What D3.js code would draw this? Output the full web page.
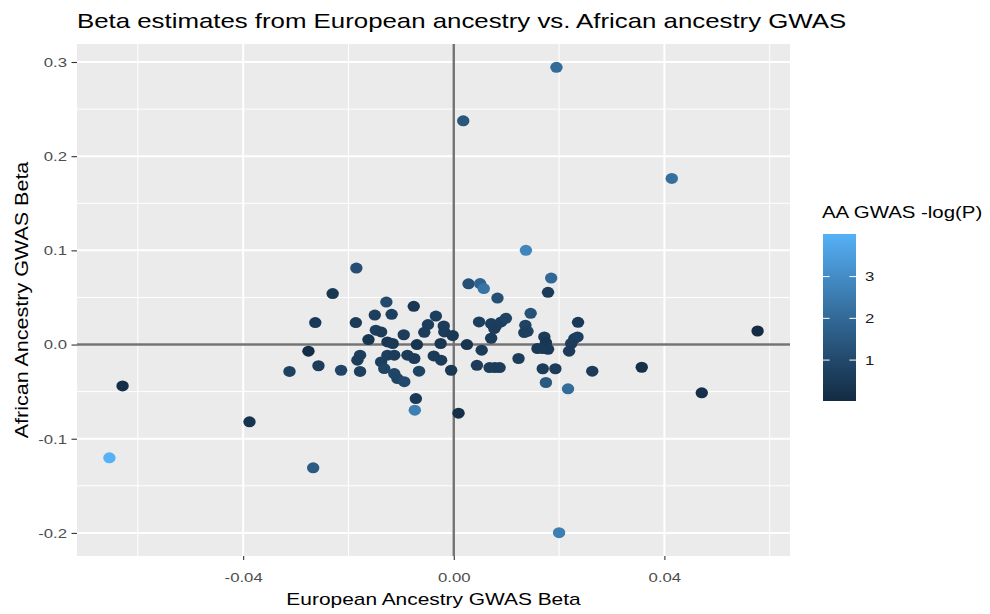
<!DOCTYPE html>
<html>
<head>
<meta charset="utf-8">
<script src="https://cdn.jsdelivr.net/npm/d3@7"></script>
<style>
  body { margin: 0; background: #ffffff; }
  svg { display: block; font-family: "Liberation Sans", Arial, sans-serif; }
</style>
</head>
<body>
<svg id="chart" width="990" height="614"></svg>
<script>
// Per-variant effect estimates: European ancestry beta, African ancestry beta, AA -log10(P)
const euBeta = [
  -0.0654, -0.0629, -0.0388, -0.0267, -0.0312, -0.0276, -0.0257, -0.0263, -0.0230, -0.0214,
  -0.0185, -0.0186, -0.0178, -0.0183, -0.0178, -0.0162, -0.0148, -0.0138, -0.0150, -0.0128,
  -0.0118, -0.0126, -0.0116, -0.0138, -0.0132, -0.0126, -0.0113, -0.0107, -0.0094, -0.0113,
  -0.0088, -0.0075, -0.0095, -0.0076, -0.0070, -0.0066, -0.0072, -0.0074, -0.0034, -0.0049,
  -0.0019, -0.0056, -0.0018, -0.0002, -0.0025, -0.0038, -0.0024, -0.0005, 0.0009, 0.0018,
  0.0025, 0.0028, 0.0050, 0.0057, 0.0083, 0.0048, 0.0053, 0.0044, 0.0071, 0.0071,
  0.0080, 0.0090, 0.0099, 0.0077, 0.0068, 0.0078, 0.0087, 0.0123, 0.0137, 0.0146,
  0.0136, 0.0140, 0.0134, 0.0172, 0.0175, 0.0159, 0.0169, 0.0179, 0.0185, 0.0179,
  0.0169, 0.0193, 0.0175, 0.0195, 0.0200, 0.0217, 0.0236, 0.0229, 0.0235, 0.0223,
  0.0219, 0.0263, 0.0357, 0.0414, 0.0471, 0.0577
];
const aaBeta = [
  -0.1203, -0.0439, -0.0821, -0.1309, -0.0286, -0.0071, -0.0225, 0.0233, 0.0541, -0.0273,
  0.0812, 0.0233, -0.0113, -0.0166, -0.0286, 0.0053, 0.0152, 0.0134, 0.0313, 0.0451,
  0.0321, 0.0028, 0.0011, -0.0185, -0.0255, -0.0113, -0.0308, -0.0361, -0.0394, -0.0113,
  -0.0113, -0.0148, 0.0104, 0.0406, 0.0000, -0.0283, -0.0573, -0.0697, 0.0302, 0.0212,
  0.0197, 0.0130, 0.0134, 0.0096, 0.0011, -0.0121, -0.0166, -0.0273, -0.0729, 0.2375,
  0.0000, 0.0645, 0.0647, 0.0594, 0.0494, 0.0240, -0.0060, -0.0220, 0.0067, 0.0223,
  0.0199, 0.0240, 0.0279, 0.0170, -0.0244, -0.0244, -0.0244, -0.0148, 0.1000, 0.0332,
  0.0205, 0.0141, 0.0127, 0.0081, 0.0021, -0.0042, -0.0042, -0.0050, 0.0706, 0.0555,
  -0.0257, -0.0257, -0.0403, 0.2944, -0.1998, -0.0470, 0.0236, 0.0064, 0.0081, 0.0011,
  -0.0071, -0.0283, -0.0241, 0.1764, -0.0513, 0.0144
];
const aaLogP = [
  4.02, 0.15, 0.35, 1.55, 0.75, 0.10, 0.60, 0.50, 0.40, 0.85,
  1.15, 0.55, 0.70, 0.60, 0.70, 0.35, 0.70, 0.55, 0.65, 1.05,
  0.70, 0.40, 0.50, 0.70, 0.80, 0.70, 0.90, 0.85, 1.00, 0.60,
  0.55, 0.55, 0.60, 0.40, 0.35, 0.80, 0.50, 2.60, 0.70, 0.70,
  0.60, 0.60, 0.55, 0.45, 0.40, 0.55, 0.55, 0.45, 0.20, 1.40,
  0.35, 1.20, 1.85, 2.30, 1.20, 0.70, 0.55, 0.60, 0.55, 0.70,
  0.70, 0.70, 0.80, 0.60, 0.60, 0.60, 0.60, 0.60, 2.80, 1.30,
  0.80, 0.80, 0.70, 0.55, 0.40, 0.50, 0.50, 0.50, 1.95, 0.55,
  0.60, 0.60, 1.50, 2.05, 2.60, 2.05, 0.50, 0.60, 0.70, 0.60,
  0.55, 0.55, 0.20, 2.15, 0.20, 0.02
];

const xTicks = [-0.04, 0.00, 0.04];
const xMinor = [-0.06, -0.02, 0.02, 0.06];
const yTicks = [-0.2, -0.1, 0.0, 0.1, 0.2, 0.3];
const yMinor = [-0.15, -0.05, 0.05, 0.15, 0.25];
const legendTicks = [1, 2, 3];

const titleText = "Beta estimates from European ancestry vs. African ancestry GWAS";
const xTitle = "European Ancestry GWAS Beta";
const yTitle = "African Ancestry GWAS Beta";
const legendTitle = "AA GWAS -log(P)";

const points = euBeta.map((x, i) => ({ x, y: aaBeta[i], p: aaLogP[i] }));

// Layout
const SX = 1.23;               // widening of glyphs along the text baseline
const panel = { left: 77, right: 790, top: 44, bottom: 556 };

const svg = d3.select("#chart");

// ggplot-style 5% expansion of the data range
function expand(ext, f = 0.05) {
  const d = (ext[1] - ext[0]) * f;
  return [ext[0] - d, ext[1] + d];
}
const x = d3.scaleLinear().domain(expand(d3.extent(euBeta))).range([panel.left, panel.right]);
const y = d3.scaleLinear().domain(expand(d3.extent(aaBeta))).range([panel.bottom, panel.top]);

const pExtent = d3.extent(aaLogP);
const color = d3.scaleLinear().domain(pExtent).range(["#132B43", "#56B1F7"]).interpolate(d3.interpolateLab);

// Panel background
svg.append("rect")
  .attr("x", panel.left).attr("y", panel.top)
  .attr("width", panel.right - panel.left).attr("height", panel.bottom - panel.top)
  .attr("fill", "#EBEBEB");

const grid = svg.append("g");
grid.selectAll(".xminor").data(xMinor).join("line")
  .attr("x1", d => x(d)).attr("x2", d => x(d))
  .attr("y1", panel.top).attr("y2", panel.bottom)
  .attr("stroke", "#ffffff").attr("stroke-width", 1);
grid.selectAll(".yminor").data(yMinor).join("line")
  .attr("y1", d => y(d)).attr("y2", d => y(d))
  .attr("x1", panel.left).attr("x2", panel.right)
  .attr("stroke", "#ffffff").attr("stroke-width", 1);
grid.selectAll(".xmajor").data(xTicks).join("line")
  .attr("x1", d => x(d)).attr("x2", d => x(d))
  .attr("y1", panel.top).attr("y2", panel.bottom)
  .attr("stroke", "#ffffff").attr("stroke-width", 2);
grid.selectAll(".ymajor").data(yTicks).join("line")
  .attr("y1", d => y(d)).attr("y2", d => y(d))
  .attr("x1", panel.left).attr("x2", panel.right)
  .attr("stroke", "#ffffff").attr("stroke-width", 2);

// Reference lines at zero
svg.append("line")
  .attr("x1", panel.left).attr("x2", panel.right)
  .attr("y1", y(0)).attr("y2", y(0))
  .attr("stroke", "#737373").attr("stroke-width", 2.4);
svg.append("line")
  .attr("x1", x(0)).attr("x2", x(0))
  .attr("y1", panel.top).attr("y2", panel.bottom)
  .attr("stroke", "#737373").attr("stroke-width", 2.4);

// Points
svg.append("g").selectAll("ellipse").data(points).join("ellipse")
  .attr("cx", d => x(d.x)).attr("cy", d => y(d.y))
  .attr("rx", 6.2).attr("ry", 5.5)
  .attr("fill", d => color(d.p));

// Axes
const xAxis = svg.append("g")
  .attr("transform", `translate(0,${panel.bottom})`)
  .call(d3.axisBottom(x).tickValues(xTicks).tickFormat(d => d.toFixed(2)).tickSize(4).tickPadding(12));
const yAxis = svg.append("g")
  .attr("transform", `translate(${panel.left},0)`)
  .call(d3.axisLeft(y).tickValues(yTicks).tickFormat(d => d.toFixed(1)).tickSize(5.5).tickPadding(4));

[xAxis, yAxis].forEach(g => {
  g.select(".domain").remove();
  g.selectAll(".tick line").attr("stroke", "#333333").attr("stroke-width", 1.1);
  g.selectAll(".tick text")
    .attr("fill", "#4D4D4D")
    .style("font-size", "13.6px")
    .style("font-family", "'Liberation Sans', Arial, sans-serif");
});
xAxis.selectAll(".tick text").attr("transform", `scale(${SX},1)`);
yAxis.selectAll(".tick text").attr("x", -10 / SX).attr("transform", `scale(${SX},1)`);

function stretched(txt, tx, ty, size, anchor, rotate = 0, fill = "#000000") {
  const g = svg.append("g").attr("transform", `translate(${tx},${ty}) rotate(${rotate})`);
  g.append("text")
    .attr("transform", `scale(${SX},1)`)
    .attr("text-anchor", anchor)
    .style("font-size", size + "px")
    .attr("fill", fill)
    .text(txt);
}

stretched(titleText, 77, 28, 21, "start");
stretched(xTitle, (panel.left + panel.right) / 2, 605, 17, "middle");
stretched(yTitle, 28, (panel.top + panel.bottom) / 2, 17.5, "middle", -90);

// Colour bar legend
const bar = { x: 823, w: 33, top: 234, bottom: 401 };
const ly = d3.scaleLinear().domain(pExtent).range([bar.bottom, bar.top]);
const defs = svg.append("defs");
const grad = defs.append("linearGradient").attr("id", "cbar")
  .attr("x1", 0).attr("y1", 1).attr("x2", 0).attr("y2", 0);
d3.range(0, 1.0001, 0.05).forEach(t => {
  grad.append("stop").attr("offset", t)
    .attr("stop-color", color(pExtent[0] + t * (pExtent[1] - pExtent[0])));
});
svg.append("rect")
  .attr("x", bar.x).attr("y", bar.top)
  .attr("width", bar.w).attr("height", bar.bottom - bar.top)
  .attr("fill", "url(#cbar)");

const lt = svg.append("g");
lt.selectAll(".tl").data(legendTicks).join("line")
  .attr("x1", bar.x).attr("x2", bar.x + bar.w / 5)
  .attr("y1", d => ly(d)).attr("y2", d => ly(d))
  .attr("stroke", "#ffffff").attr("stroke-width", 1);
lt.selectAll(".tr").data(legendTicks).join("line")
  .attr("x1", bar.x + bar.w - bar.w / 5).attr("x2", bar.x + bar.w)
  .attr("y1", d => ly(d)).attr("y2", d => ly(d))
  .attr("stroke", "#ffffff").attr("stroke-width", 1);
legendTicks.forEach(v => {
  stretched(String(v), 865, ly(v) + 4.8, 13.6, "start", 0, "#1A1A1A");
});

stretched(legendTitle, 822, 218, 16.6, "start");
</script>
</body>
</html>
